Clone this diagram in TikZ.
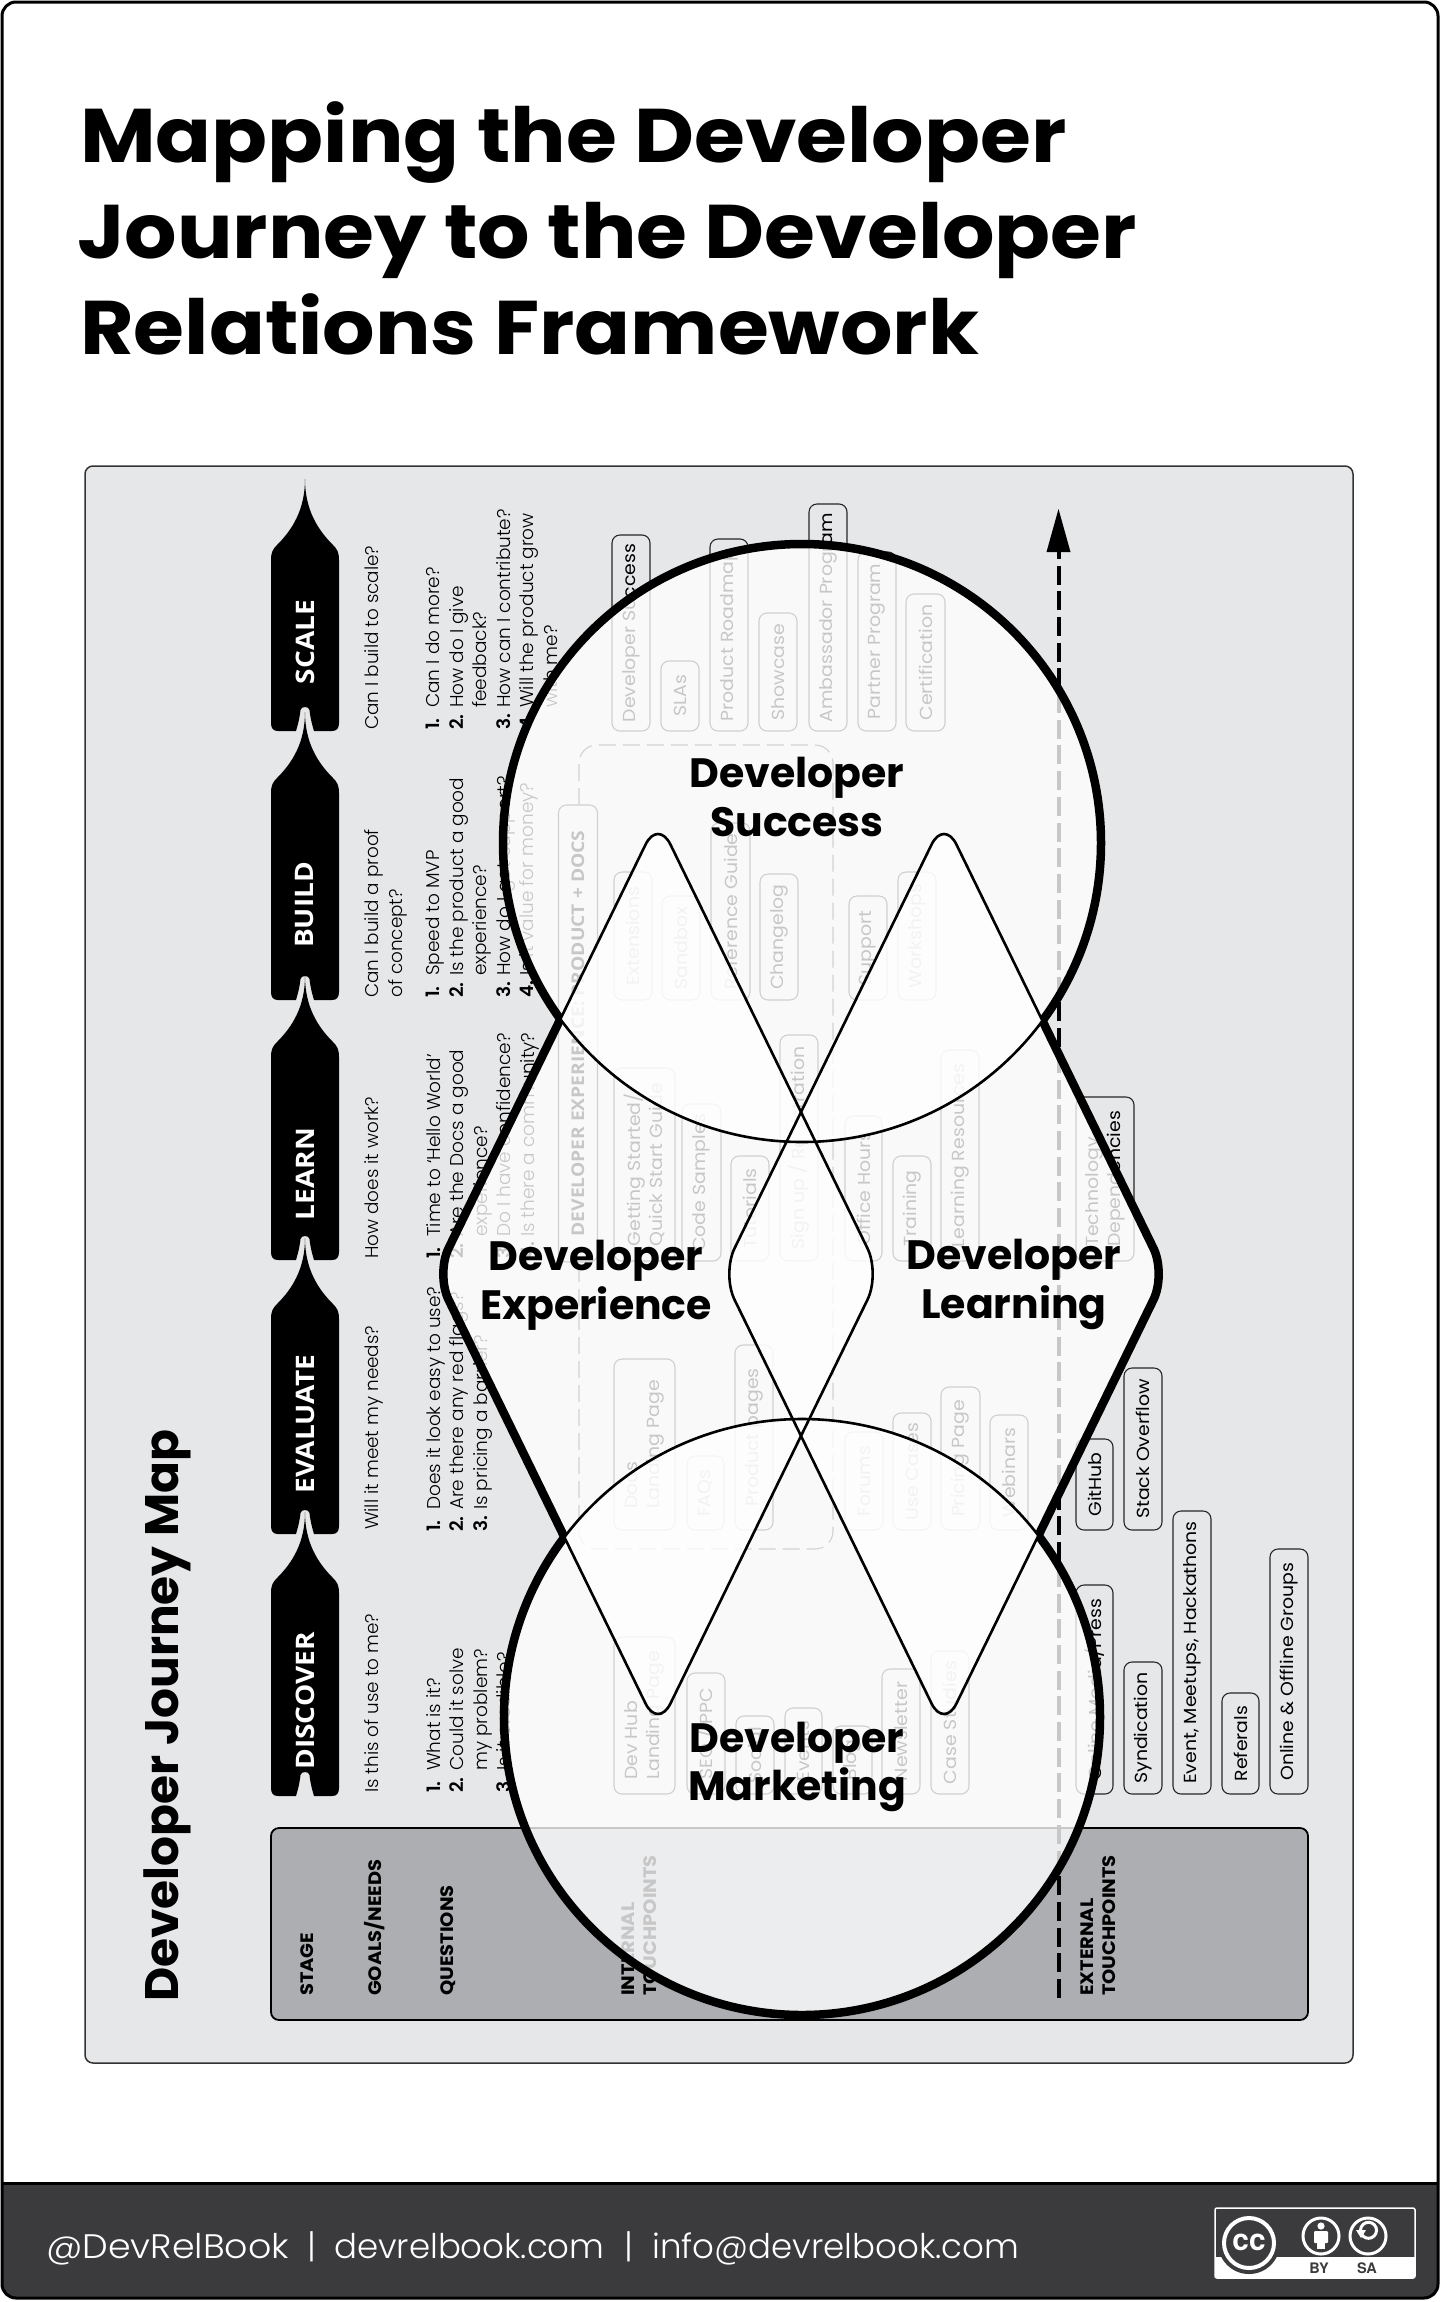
\documentclass[tikz,border=0pt]{standalone}
\usepackage{fontspec}
\setmainfont{Poppins}[FakeStretch=1.08]
\newfontfamily\lightf{Poppins}[UprightFont=* Light,BoldFont=* SemiBold]
\newfontfamily\lightw{Poppins}[UprightFont=* Light,FakeStretch=1.07]
\newfontfamily\titlef{Poppins}[FakeStretch=1.085]
\newfontfamily\bigf{Poppins}
\newfontfamily\opens{Open Sans}[FakeStretch=1.1]
\newfontfamily\heros{TeX Gyre Heros}
\definecolor{panelgray}{HTML}{E6E7E9}
\definecolor{bandgray}{HTML}{ADAEB2}
\definecolor{footgray}{HTML}{3B3B3D}
\tikzset{
  shDS/.style={insert path={(802,843) circle[radius=299pt]}},
  shDM/.style={insert path={(802,1717) circle[radius=298pt]}},
  shDX/.style={rounded corners=28.5pt,insert path={(658,819)--(880,1274)--(658,1729)--(436,1274)--cycle}},
  shDL/.style={rounded corners=28.5pt,insert path={(944,819)--(1166,1274)--(944,1729)--(722,1274)--cycle}},
  cardbox/.style={draw=black!85,line width=1.1pt,rounded corners=8pt,inner sep=0pt,rotate=90,align=left,font=\fontsize{17.5}{22}\selectfont},
  rot/.style={rotate=90,anchor=north west,inner sep=0pt,align=left},
  goal/.style={rot,font=\lightf\fontsize{18.4}{24.5}\selectfont},
  ques/.style={rot,font=\lightf\fontsize{18.5}{23.5}\selectfont},
  head/.style={rot,font=\bfseries\fontsize{18}{21.5}\selectfont},
  stagelab/.style={rotate=90,text=white,inner sep=0pt,font=\opens\bfseries\fontsize{25.5}{25}\selectfont},
  biglab/.style={anchor=base,inner sep=0pt,font=\bigf\bfseries\fontsize{41}{41}\selectfont},
  titlab/.style={anchor=base west,inner sep=0pt,font=\titlef\bfseries\fontsize{76}{76}\selectfont},
  washfill/.style={fill=white,fill opacity=0.78},
}
\newcommand{\card}[6]{%
  \pgfmathsetmacro{\cw}{#3-(#2)}\pgfmathsetmacro{\ch}{#5-(#4)}%
  \node[cardbox,minimum width=\ch pt,minimum height=\cw pt] (#1) at ({(#2+#3)/2},{(#4+#5)/2}) {#6};}
\newcommand{\stagearrow}[5]{% name, tip y, bottom y, label, label y
  \fill[black] (305,#2) .. controls (305,{#2+31}) and (292,{#2+51}) .. (277,{#2+66})
    .. controls (273,{#2+70}) and (271,{#2+73}) .. (271,{#2+81})
    -- (271,{#3-8}) .. controls (271,{#3-3}) and (273,#3) .. (278,#3)
    -- (296,#3) .. controls (299,{#3-10}) and (300,{#3-16}) .. (300.5,{#3-21})
    .. controls (301,{#3-25}) and (309,{#3-25}) .. (309.5,{#3-21})
    .. controls (310,{#3-16}) and (311,{#3-10}) .. (314,#3)
    -- (332,#3) .. controls (337,#3) and (339,{#3-3}) .. (339,{#3-8})
    -- (339,{#2+81}) .. controls (339,{#2+73}) and (337,{#2+70}) .. (333,{#2+66})
    .. controls (318,{#2+51}) and (305,{#2+31}) .. (305,#2) -- cycle;
  \node[stagelab] (#1) at (305,#5) {#4};}
\newcommand{\outerstroke}[4]{%
  \begin{scope}[even odd rule]
    \clip (-60,-60) rectangle (1500,2360) [#2];
    \clip (-60,-60) rectangle (1500,2360) [#3];
    \clip (-60,-60) rectangle (1500,2360) [#4];
    \draw[line width=8.5pt,#1];
  \end{scope}}
\newcommand{\nn}[1]{\makebox[22pt][l]{\bfseries #1}}
\begin{document}
\begin{tikzpicture}[x=1pt,y=-1pt]
\useasboundingbox (0,0) rectangle (1441,2302);
% page
\fill[white] (0,0) rectangle (1441,2302);
\fill[footgray,rounded corners=14pt] (2,2100) rectangle (1438,2298);
\fill[white] (3,1900) rectangle (1437,2183);
\draw[line width=3pt,rounded corners=14pt] (2,2) rectangle (1438,2298);
\draw[line width=3pt] (2,2183) -- (1438,2183);
% title
\node[titlab] (t1) at (80,162) {Mapping the Developer};
\node[titlab] (t2) at (77,258) {Journey to the Developer};
\node[titlab] (t3) at (80,354) {Relations Framework};
% panel
\draw[fill=panelgray,draw=black!80,line width=1.5pt,rounded corners=8pt] (85,466) rectangle (1353,2063);
\node[rotate=90,anchor=base west,inner sep=0pt,font=\bigf\bfseries\fontsize{47}{47}\selectfont] (jm) at (178,2002) {Developer Journey Map};
% band
\draw[fill=bandgray,draw=black,line width=1.8pt,rounded corners=8pt] (271,1828) rectangle (1308,2020);
\node[head] (hstage) at (300,1996) {STAGE};
\node[head] (hgoals) at (364,1996) {GOALS/NEEDS};
\node[head] (hques) at (440,1996) {QUESTIONS};
\node[head] (hint) at (622,1996) {INTERNAL\\TOUCHPOINTS};
\node[head] (hext) at (1081,1996) {EXTERNAL\\TOUCHPOINTS};
% stage arrows, top to bottom
\stagearrow{sScale}{479}{731}{SCALE}{642}
\stagearrow{sBuild}{712}{1000}{BUILD}{905}
\stagearrow{sLearn}{976}{1260}{LEARN}{1174}
\stagearrow{sEval}{1238}{1534}{EVALUATE}{1424}
\stagearrow{sDisc}{1512}{1796}{DISCOVER}{1701}
% goals
\node[goal] (g1) at (364,730) {Can I build to scale?};
\node[goal] (g2) at (364,998) {Can I build a proof\\of concept?};
\node[goal] (g3) at (364,1259) {How does it work?};
\node[goal] (g4) at (364,1530) {Will it meet my needs?};
\node[goal] (g5) at (364,1793) {Is this of use to me?};
% questions
\node[ques] (q1) at (426,730) {\nn{1.}Can I do more?\\\nn{2.}How do I give\\\nn{}feedback?\\\nn{3.}How can I contribute?\\\nn{4.}Will the product grow\\\nn{}with me?};
\node[ques] (q2) at (426,998) {\nn{1.}Speed to MVP\\\nn{2.}Is the product a good\\\nn{}experience?\\\nn{3.}How do I get support?\\\nn{4.}Is it value for money?};
\node[ques] (q3) at (426,1259) {\nn{1.}Time to ‘Hello World’\\\nn{2.}Are the Docs a good\\\nn{}experience?\\\nn{3.}Do I have confidence?\\\nn{4.}Is there a community?};
\node[ques] (q4) at (426,1532) {\nn{1.}Does it look easy to use?\\\nn{2.}Are there any red flags?\\\nn{3.}Is pricing a barrier?};
\node[ques] (q5) at (426,1793) {\nn{1.}What is it?\\\nn{2.}Could it solve\\\nn{}my problem?\\\nn{3.}Is it credible?};
% cards: row scale
\card{c1}{612}{650}{535}{731}{Developer Success}
\card{c2}{661}{699}{661}{731}{SLAs}
\card{c3}{710}{748}{539}{731}{Product Roadmap}
\card{c4}{759}{797}{613}{731}{Showcase}
\card{c5}{809}{847}{504}{731}{Ambassador Program}
\card{c6}{858}{896}{552}{731}{Partner Program}
\card{c7}{906}{945}{594}{731}{Certification}
% dashed container
\draw[black!80,line width=1.1pt,dash pattern=on 17pt off 7pt,rounded corners=18pt] (579,805) -- (579,745) -- (833,745) -- (833,1549) -- (579,1549) -- (579,1262);
\node[cardbox,minimum width=457pt,minimum height=39pt,font=\opens\bfseries\fontsize{17.5}{22}\selectfont,fill=panelgray] (c8) at (578,1033.5) {DEVELOPER EXPERIENCE: PRODUCT + DOCS};
% cards: row build
\card{c9}{614}{652}{872}{1000}{Extensions}
\card{c10}{662}{700}{896}{1000}{Sandbox}
\card{c11}{711}{750}{823}{1000}{Reference Guide}
\card{c12}{760}{798}{874}{1000}{Changelog}
\card{c13}{849}{887}{896}{1000}{Support}
\card{c14}{898}{936}{872}{1000}{Workshops}
% cards: row learn
\card{c15}{614}{675}{1068}{1261}{Getting Started/\\Quick Start Guide}
\card{c16}{682}{721}{1104}{1261}{Code Samples}
\card{c17}{731}{769}{1156}{1261}{Tutorials}
\card{c18}{780}{818}{1035}{1261}{Sign up / Registration}
\card{c19}{845}{882}{1116}{1261}{Office Hours}
\card{c20}{893}{931}{1156}{1261}{Training}
\card{c21}{941}{979}{1050}{1261}{Learning Resources}
\card{c22}{1076}{1134}{1097}{1261}{Technology\\Dependencies}
% cards: row evaluate
\card{c23}{614}{675}{1359}{1530}{Docs\\Landing Page}
\card{c24}{687}{724}{1456}{1530}{FAQs}
\card{c25}{735}{773}{1345}{1530}{Product pages}
\card{c26}{845}{883}{1432}{1530}{Forums}
\card{c27}{893}{931}{1413}{1530}{Use Cases}
\card{c28}{941}{980}{1387}{1530}{Pricing Page}
\card{c29}{990}{1028}{1415}{1530}{Webinars}
\card{c30}{1076}{1113}{1439}{1530}{GitHub}
\card{c31}{1124}{1162}{1368}{1530}{Stack Overflow}
% cards: row discover
\card{c32}{614}{675}{1637}{1794}{Dev Hub\\Landing Page}
\card{c33}{687}{725}{1673}{1794}{SEO / PPC}
\card{c34}{736}{774}{1716}{1794}{Social}
\card{c35}{785}{822}{1708}{1794}{Events}
\card{c36}{833}{872}{1726}{1794}{Blog}
\card{c37}{882}{920}{1669}{1794}{Newsletter}
\card{c38}{931}{969}{1651}{1794}{Case Studies}
\card{c39}{1076}{1113}{1585}{1794}{Online Media/Press}
\card{c40}{1124}{1162}{1662}{1794}{Syndication}
\card{c41}{1173}{1211}{1511}{1794}{Event, Meetups, Hackathons}
\card{c42}{1222}{1259}{1693}{1794}{Referals}
\card{c43}{1270}{1308}{1549}{1794}{Online \& Offline Groups}
% dashed axis with arrow
\coordinate (axA) at (1058.5,1998);
\coordinate (axB) at (1058.5,552);
\draw[line width=4pt,dash pattern=on 19pt off 6.7pt] (axA) -- (axB);
\fill (1058.5,509) -- (1070.5,552) -- (1046.5,552) -- cycle;
% washes
\path[washfill,shDS];
\path[washfill,shDM];
\path[washfill,shDX];
\path[washfill,shDL];
% outer thick contour
\outerstroke{shDS}{shDM}{shDX}{shDL}
\outerstroke{shDM}{shDS}{shDX}{shDL}
\outerstroke{shDX}{shDS}{shDM}{shDL}
\outerstroke{shDL}{shDS}{shDM}{shDX}
% thin contours
\draw[line width=2.6pt,shDS];
\draw[line width=2.6pt,shDM];
\draw[line width=2.6pt,shDX];
\draw[line width=2.6pt,shDL];
% big labels
\node[biglab] (ds1) at (797,787) {Developer};
\node[biglab] (ds2) at (797,836) {Success};
\node[biglab] (dx1) at (596,1270) {Developer};
\node[biglab] (dx2) at (596,1319) {Experience};
\node[biglab] (dl1) at (1014,1269) {Developer};
\node[biglab] (dl2) at (1014,1318) {Learning};
\node[biglab] (dm1) at (797,1752) {Developer};
\node[biglab] (dm2) at (797,1800) {Marketing};
% footer text
\node[anchor=base west,inner sep=0pt,text=white,font=\lightf\fontsize{34}{34}\selectfont] (foot) at (46,2258) {{\lightw @DevRelBook}\makebox[45pt][c]{|}devrelbook.com\makebox[48pt][c]{|}info@devrelbook.com};
% CC badge
\draw[white,line width=1.5pt,rounded corners=2pt] (1215,2208) rectangle (1415,2278);
\fill[white] (1215,2257) rectangle (1415,2278);
\fill[footgray] (1249,2243) circle[radius=31pt];
\draw[white,line width=4pt] (1249,2243) circle[radius=25pt];
\node[text=white,inner sep=0pt,font=\heros\bfseries\fontsize{30}{30}\selectfont] (cc) at (1249,2242) {cc};
\draw[white,line width=3pt] (1321,2236) circle[radius=18pt];
\fill[white] (1321,2226) circle[radius=3.6pt];
\fill[white,rounded corners=1pt] (1314,2231) rectangle (1328,2243);
\fill[white] (1317,2241) rectangle (1325,2249);
\draw[white,line width=3pt] (1368,2236) circle[radius=18pt];
\draw[white,line width=3pt] (1361,2233) arc[start angle=200,end angle=-150,radius=8pt];
\fill[white] (1356,2230) -- (1366,2230) -- (1361,2238) -- cycle;
\node[text=footgray,inner sep=0pt,font=\heros\bfseries\fontsize{14.5}{14.5}\selectfont] (ccby) at (1319,2268) {BY};
\node[text=footgray,inner sep=0pt,font=\heros\bfseries\fontsize{14.5}{14.5}\selectfont] (ccsa) at (1367,2268) {SA};
\end{tikzpicture}
\end{document}
